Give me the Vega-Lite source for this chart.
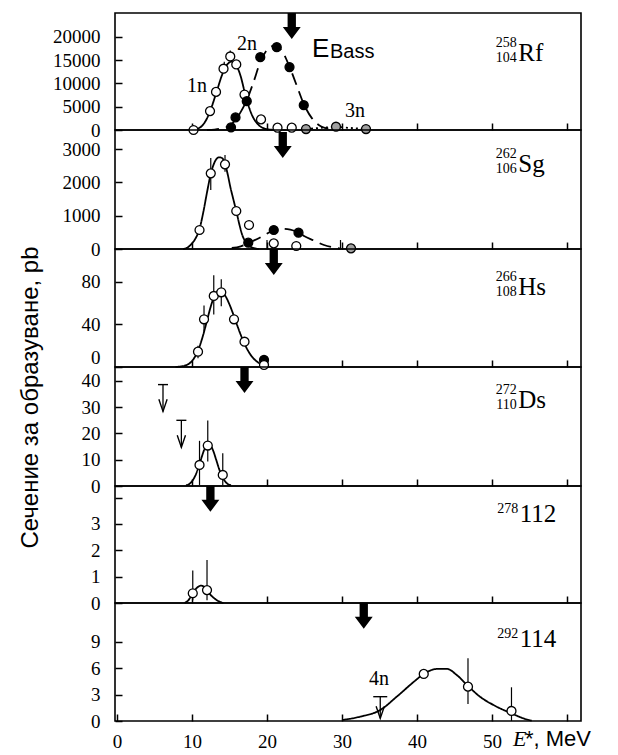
{
  "$schema": "https://vega.github.io/schema/vega-lite/v6.json",
  "background": "white",
  "padding": {"left": 17, "top": 12, "right": 5, "bottom": 5},
  "spacing": 0,
  "bounds": "flush",
  "config": {
    "font": "Liberation Serif",
    "view": {"stroke": "black", "strokeWidth": 1.6},
    "style": {"guide-label": {"font": "Liberation Serif", "fontSize": 19, "fill": "black"}},
    "axis": {"labelFont": "Liberation Serif", "labelFontSize": 19, "labelColor": "black", "tickColor": "black", "tickWidth": 1.5, "domain": false, "grid": false, "labelOverlap": false, "labelFlush": false, "format": "d"},
    "axisY": {"tickSize": -7, "labelPadding": 22, "labelFont": "Liberation Serif"},
    "axisX": {"tickSize": -7, "labelPadding": 18, "labelFont": "Liberation Serif"}
  },
  "datasets": {
    "curves": [
      {"p":1,"c":"1n","E":10.2,"s":0},{"p":1,"c":"1n","E":10.8,"s":300},{"p":1,"c":"1n","E":11.3,"s":850},{"p":1,"c":"1n","E":11.9,"s":2200},{"p":1,"c":"1n","E":12.4,"s":4000},{"p":1,"c":"1n","E":13.2,"s":7800},{"p":1,"c":"1n","E":14.0,"s":11800},{"p":1,"c":"1n","E":14.7,"s":14100},{"p":1,"c":"1n","E":15.3,"s":14700},{"p":1,"c":"1n","E":16.0,"s":13600},{"p":1,"c":"1n","E":16.5,"s":11500},{"p":1,"c":"1n","E":17.0,"s":8300},{"p":1,"c":"1n","E":17.5,"s":5400},{"p":1,"c":"1n","E":18.0,"s":3200},{"p":1,"c":"1n","E":18.5,"s":1800},{"p":1,"c":"1n","E":19.0,"s":900},{"p":1,"c":"1n","E":19.6,"s":350},{"p":1,"c":"1n","E":20.2,"s":120},{"p":1,"c":"1n","E":21.0,"s":20},{"p":1,"c":"1n","E":21.9,"s":0},
      {"p":1,"c":"2n","E":12.0,"s":0},{"p":1,"c":"2n","E":13.0,"s":100},{"p":1,"c":"2n","E":14.0,"s":350},{"p":1,"c":"2n","E":15.0,"s":900},{"p":1,"c":"2n","E":15.8,"s":2200},{"p":1,"c":"2n","E":16.5,"s":3900},{"p":1,"c":"2n","E":17.3,"s":6400},{"p":1,"c":"2n","E":18.2,"s":10300},{"p":1,"c":"2n","E":19.1,"s":14600},{"p":1,"c":"2n","E":20.0,"s":17200},{"p":1,"c":"2n","E":21.1,"s":18200},{"p":1,"c":"2n","E":22.0,"s":17000},{"p":1,"c":"2n","E":23.0,"s":13600},{"p":1,"c":"2n","E":24.0,"s":9400},{"p":1,"c":"2n","E":24.9,"s":5600},{"p":1,"c":"2n","E":26.0,"s":2500},{"p":1,"c":"2n","E":27.3,"s":700},{"p":1,"c":"2n","E":28.7,"s":150},{"p":1,"c":"2n","E":29.5,"s":0},
      {"p":1,"c":"3n","E":25.2,"s":200},{"p":1,"c":"3n","E":27.0,"s":450},{"p":1,"c":"3n","E":29.2,"s":650},{"p":1,"c":"3n","E":31.0,"s":450},{"p":1,"c":"3n","E":33.2,"s":200},
      {"p":2,"c":"1n","E":8.8,"s":0},{"p":2,"c":"1n","E":9.5,"s":60},{"p":2,"c":"1n","E":10.0,"s":170},{"p":2,"c":"1n","E":10.5,"s":330},{"p":2,"c":"1n","E":11.0,"s":600},{"p":2,"c":"1n","E":11.5,"s":1100},{"p":2,"c":"1n","E":12.0,"s":1700},{"p":2,"c":"1n","E":12.5,"s":2250},{"p":2,"c":"1n","E":13.0,"s":2600},{"p":2,"c":"1n","E":13.6,"s":2750},{"p":2,"c":"1n","E":14.0,"s":2730},{"p":2,"c":"1n","E":14.4,"s":2550},{"p":2,"c":"1n","E":14.8,"s":2200},{"p":2,"c":"1n","E":15.1,"s":1870},{"p":2,"c":"1n","E":15.5,"s":1500},{"p":2,"c":"1n","E":15.9,"s":1140},{"p":2,"c":"1n","E":16.3,"s":750},{"p":2,"c":"1n","E":16.7,"s":420},{"p":2,"c":"1n","E":17.1,"s":230},{"p":2,"c":"1n","E":17.6,"s":100},{"p":2,"c":"1n","E":18.2,"s":30},{"p":2,"c":"1n","E":18.9,"s":0},
      {"p":2,"c":"2n","E":15.3,"s":30},{"p":2,"c":"2n","E":16.5,"s":80},{"p":2,"c":"2n","E":17.5,"s":180},{"p":2,"c":"2n","E":18.7,"s":300},{"p":2,"c":"2n","E":19.9,"s":450},{"p":2,"c":"2n","E":20.9,"s":560},{"p":2,"c":"2n","E":22.0,"s":610},{"p":2,"c":"2n","E":23.1,"s":580},{"p":2,"c":"2n","E":24.2,"s":490},{"p":2,"c":"2n","E":25.0,"s":380},{"p":2,"c":"2n","E":26.2,"s":260},{"p":2,"c":"2n","E":27.6,"s":120},{"p":2,"c":"2n","E":28.8,"s":50},{"p":2,"c":"2n","E":29.8,"s":10},
      {"p":3,"c":"1n","E":7.8,"s":0.1},{"p":3,"c":"1n","E":8.5,"s":0.5},{"p":3,"c":"1n","E":9.0,"s":1.2},{"p":3,"c":"1n","E":9.5,"s":2.7},{"p":3,"c":"1n","E":10.0,"s":5.7},{"p":3,"c":"1n","E":10.5,"s":11},{"p":3,"c":"1n","E":11.0,"s":19.2},{"p":3,"c":"1n","E":11.5,"s":30.4},{"p":3,"c":"1n","E":12.0,"s":43.7},{"p":3,"c":"1n","E":12.5,"s":56.9},{"p":3,"c":"1n","E":13.0,"s":67.1},{"p":3,"c":"1n","E":13.6,"s":72},{"p":3,"c":"1n","E":14.0,"s":70.8},{"p":3,"c":"1n","E":14.5,"s":66.2},{"p":3,"c":"1n","E":15.0,"s":58.8},{"p":3,"c":"1n","E":15.5,"s":49.6},{"p":3,"c":"1n","E":16.0,"s":39.7},{"p":3,"c":"1n","E":16.5,"s":30.2},{"p":3,"c":"1n","E":17.0,"s":21.8},{"p":3,"c":"1n","E":17.5,"s":15},{"p":3,"c":"1n","E":18.0,"s":9.7},{"p":3,"c":"1n","E":18.5,"s":6.0},{"p":3,"c":"1n","E":19.0,"s":3.5},{"p":3,"c":"1n","E":19.6,"s":1.5},
      {"p":4,"c":"1n","E":9.2,"s":0.3},{"p":4,"c":"1n","E":9.6,"s":0.7},{"p":4,"c":"1n","E":10.0,"s":1.8},{"p":4,"c":"1n","E":10.4,"s":3.7},{"p":4,"c":"1n","E":10.8,"s":6.6},{"p":4,"c":"1n","E":11.2,"s":10.2},{"p":4,"c":"1n","E":11.6,"s":13.6},{"p":4,"c":"1n","E":12.0,"s":15.7},{"p":4,"c":"1n","E":12.2,"s":16},{"p":4,"c":"1n","E":12.4,"s":15.7},{"p":4,"c":"1n","E":12.8,"s":13.6},{"p":4,"c":"1n","E":13.2,"s":10.2},{"p":4,"c":"1n","E":13.6,"s":6.6},{"p":4,"c":"1n","E":14.0,"s":3.7},{"p":4,"c":"1n","E":14.4,"s":1.8},{"p":4,"c":"1n","E":14.8,"s":0.7},{"p":4,"c":"1n","E":15.2,"s":0.3},
      {"p":5,"c":"1n","E":9.0,"s":0},{"p":5,"c":"1n","E":9.5,"s":0.1},{"p":5,"c":"1n","E":10.1,"s":0.37},{"p":5,"c":"1n","E":10.6,"s":0.56},{"p":5,"c":"1n","E":11.2,"s":0.66},{"p":5,"c":"1n","E":11.7,"s":0.6},{"p":5,"c":"1n","E":12.0,"s":0.49},{"p":5,"c":"1n","E":12.5,"s":0.3},{"p":5,"c":"1n","E":13.1,"s":0.15},{"p":5,"c":"1n","E":13.6,"s":0.06},{"p":5,"c":"1n","E":14.2,"s":0},
      {"p":6,"c":"4n","E":30.0,"s":0.11},{"p":6,"c":"4n","E":32.4,"s":0.49},{"p":6,"c":"4n","E":35.1,"s":1.25},{"p":6,"c":"4n","E":37.3,"s":2.77},{"p":6,"c":"4n","E":39.6,"s":4.48},{"p":6,"c":"4n","E":40.9,"s":5.36},{"p":6,"c":"4n","E":42.7,"s":5.93},{"p":6,"c":"4n","E":44.0,"s":5.93},{"p":6,"c":"4n","E":45.3,"s":5.24},{"p":6,"c":"4n","E":46.8,"s":3.99},{"p":6,"c":"4n","E":48.4,"s":2.77},{"p":6,"c":"4n","E":50.2,"s":1.82},{"p":6,"c":"4n","E":52.6,"s":0.87},{"p":6,"c":"4n","E":54.2,"s":0.3},{"p":6,"c":"4n","E":55.3,"s":0.03}
    ],
    "pts": [
      {"p":1,"E":10.2,"s":0,"k":"o"},{"p":1,"E":12.4,"s":4060,"k":"o"},{"p":1,"E":13.2,"s":8190,"k":"o"},{"p":1,"E":14.2,"s":13180,"k":"o"},{"p":1,"E":15.1,"s":15810,"k":"o"},{"p":1,"E":15.9,"s":14100,"k":"o"},{"p":1,"E":17.0,"s":7620,"k":"o"},{"p":1,"E":19.2,"s":2280,"k":"o"},{"p":1,"E":21.4,"s":500,"k":"o"},{"p":1,"E":23.3,"s":500,"k":"o"},
      {"p":1,"E":15.2,"s":570,"k":"f"},{"p":1,"E":15.8,"s":2710,"k":"f"},{"p":1,"E":17.3,"s":6200,"k":"f"},{"p":1,"E":19.1,"s":15670,"k":"f"},{"p":1,"E":21.3,"s":17800,"k":"f"},{"p":1,"E":23.0,"s":13530,"k":"f"},{"p":1,"E":24.9,"s":5340,"k":"f"},
      {"p":1,"E":25.2,"s":210,"k":"g"},{"p":1,"E":29.2,"s":710,"k":"g"},{"p":1,"E":33.2,"s":210,"k":"g"},
      {"p":2,"E":11.0,"s":570,"k":"o"},{"p":2,"E":12.5,"s":2270,"k":"o"},{"p":2,"E":14.4,"s":2540,"k":"o"},{"p":2,"E":15.9,"s":1140,"k":"o"},{"p":2,"E":17.6,"s":720,"k":"o"},{"p":2,"E":20.9,"s":170,"k":"o"},{"p":2,"E":23.9,"s":90,"k":"o"},
      {"p":2,"E":17.5,"s":190,"k":"f"},{"p":2,"E":20.9,"s":570,"k":"f"},{"p":2,"E":24.2,"s":490,"k":"f"},
      {"p":2,"E":31.2,"s":20,"k":"g"},
      {"p":3,"E":19.6,"s":6.6,"k":"f"},
      {"p":3,"E":10.8,"s":14.4,"k":"o"},{"p":3,"E":11.6,"s":44.9,"k":"o"},{"p":3,"E":12.9,"s":66.8,"k":"o"},{"p":3,"E":13.9,"s":70.3,"k":"o"},{"p":3,"E":15.6,"s":44.9,"k":"o"},{"p":3,"E":17.0,"s":23.8,"k":"o"},{"p":3,"E":19.6,"s":1.9,"k":"o"},
      {"p":4,"E":11.0,"s":8.0,"k":"o"},{"p":4,"E":12.1,"s":15.4,"k":"o"},{"p":4,"E":14.1,"s":4.2,"k":"o"},
      {"p":5,"E":10.1,"s":0.37,"k":"o"},{"p":5,"E":12.0,"s":0.49,"k":"o"},
      {"p":6,"E":40.9,"s":5.36,"k":"o"},{"p":6,"E":46.8,"s":3.91,"k":"o"},{"p":6,"E":52.6,"s":1.14,"k":"o"}
    ],
    "err": [
      {"p":1,"E":14.3,"s":12200,"s2":14700},{"p":1,"E":15.1,"s":15000,"s2":17100},
      {"p":2,"E":12.5,"s":1770,"s2":2730},{"p":2,"E":14.4,"s":2320,"s2":2820},{"p":2,"E":20.0,"s":0,"s2":270},{"p":2,"E":29.8,"s":20,"s2":270},
      {"p":3,"E":10.8,"s":8.3,"s2":19.9},{"p":3,"E":11.6,"s":33.5,"s2":57.9},{"p":3,"E":12.9,"s":49.3,"s2":86.4},{"p":3,"E":13.9,"s":57.2,"s2":82.6},
      {"p":4,"E":11.0,"s":0.4,"s2":17.2},{"p":4,"E":12.1,"s":9.3,"s2":24.9},{"p":4,"E":14.1,"s":0.4,"s2":12.5},
      {"p":5,"E":10.1,"s":0.1,"s2":1.23},{"p":5,"E":12.0,"s":0.1,"s2":1.63},
      {"p":6,"E":46.8,"s":1.94,"s2":7.15},{"p":6,"E":52.6,"s":0,"s2":3.84}
    ],
    "lims": [
      {"p":4,"E":6.13,"s":38.6,"s2":28.4},{"p":4,"E":8.58,"s":25.0,"s2":14.7},
      {"p":6,"E":35.1,"s":2.77,"s2":0.3}
    ],
    "limv": [
      {"p":4,"E":6.13,"s":28.4},{"p":4,"E":8.58,"s":14.7},
      {"p":6,"E":35.1,"s":0.3}
    ],
    "arrows": [
      {"p":1,"E":23.3,"s":19570},{"p":2,"E":22.1,"s":2730},{"p":3,"E":20.9,"s":86.6},{"p":4,"E":17.0,"s":35.4},{"p":5,"E":12.45,"s":3.46},{"p":6,"E":32.9,"s":10.5}
    ],
    "labels": [
      {"p":1,"r":"sym","t":"Rf","E":53.5,"s":14840},{"p":1,"r":"mass","t":"258","E":53.3,"s":14840},{"p":1,"r":"z","t":"104","E":53.3,"s":14840},
      {"p":1,"r":"cl","t":"1n","E":9.33,"s":8170},{"p":1,"r":"cl","t":"2n","E":16.0,"s":17200},{"p":1,"r":"cl","t":"3n","E":30.4,"s":2800},
      {"p":1,"r":"EB","t":"E","E":26.0,"s":15700},{"p":1,"r":"Bass","t":"Bass","E":28.4,"s":15500},
      {"p":2,"r":"sym","t":"Sg","E":53.5,"s":2310},{"p":2,"r":"mass","t":"262","E":53.3,"s":2310},{"p":2,"r":"z","t":"106","E":53.3,"s":2310},
      {"p":3,"r":"sym","t":"Hs","E":53.5,"s":67.8},{"p":3,"r":"mass","t":"266","E":53.3,"s":67.8},{"p":3,"r":"z","t":"108","E":53.3,"s":67.8},
      {"p":4,"r":"sym","t":"Ds","E":53.5,"s":29.7},{"p":4,"r":"mass","t":"272","E":53.3,"s":29.7},{"p":4,"r":"z","t":"110","E":53.3,"s":29.7},
      {"p":5,"r":"sym","t":"112","E":53.7,"s":3.08},{"p":5,"r":"mass2","t":"278","E":53.5,"s":3.08},
      {"p":6,"r":"sym","t":"114","E":53.7,"s":8.43},{"p":6,"r":"mass2","t":"292","E":53.5,"s":8.43},
      {"p":6,"r":"cl","t":"4n","E":33.6,"s":4.1},
      {"p":6,"r":"xt1","t":"E","E":52.8,"s":-2.85},{"p":6,"r":"xt2","t":"*, MeV","E":54.4,"s":-2.85}
    ]
  },
  "resolve": {"scale": {"x": "independent", "y": "independent"}},
  "vconcat": [
    {
      "width": 466, "height": 117,
      "encoding": {
        "x": {"field": "E", "type": "quantitative", "scale": {"domain": [-0.27, 61.87], "nice": false, "zero": false}, "axis": {"title": null, "labels": false, "values": [10,20,30,40,50,60]}},
        "y": {"field": "s", "type": "quantitative", "scale": {"domain": [0, 25160], "nice": false, "zero": false}, "axis": {"title": null, "values": [0,5000,10000,15000,20000], "format": "d"}}
      },
      "layer": [
        {"data": {"name": "curves"}, "transform": [{"filter": "datum.p == 1"}], "mark": {"type": "line", "interpolate": "monotone", "color": "black", "strokeWidth": 1.8}, "encoding": {"strokeDash": {"field": "c", "type": "nominal", "scale": {"domain": ["1n","2n","3n","4n"], "range": [[1,0],[12,7],[2,3],[1,0]]}, "legend": null}}},
        {"data": {"name": "err"}, "transform": [{"filter": "datum.p == 1"}], "mark": {"type": "rule", "color": "black", "strokeWidth": 1.2}, "encoding": {"y2": {"field": "s2"}}},
        {"data": {"name": "pts"}, "transform": [{"filter": "datum.p == 1"}], "mark": {"type": "circle", "size": 80, "stroke": "black", "strokeWidth": 1.3, "opacity": 1}, "encoding": {"fill": {"field": "k", "type": "nominal", "scale": {"domain": ["o","f","g"], "range": ["white","black","#a0a0a0"]}, "legend": null}}},
        {"data": {"name": "arrows"}, "transform": [{"filter": "datum.p == 1"}], "mark": {"type": "point", "shape": "M-0.32,-2L0.32,-2L0.32,-0.92L0.69,-0.92L0,0L-0.69,-0.92L-0.32,-0.92Z", "size": 676, "filled": true, "color": "black", "opacity": 1, "strokeWidth": 0}},
        {"data": {"name": "labels"}, "transform": [{"filter": "datum.p == 1 && datum.r == 'sym'"}], "mark": {"type": "text", "align": "left", "baseline": "alphabetic", "fontSize": 25, "font": "Liberation Serif", "color": "black"}, "encoding": {"text": {"field": "t"}}},
        {"data": {"name": "labels"}, "transform": [{"filter": "datum.p == 1 && datum.r == 'mass'"}], "mark": {"type": "text", "align": "right", "baseline": "alphabetic", "dy": -14, "fontSize": 14, "font": "Liberation Serif", "color": "black"}, "encoding": {"text": {"field": "t"}}},
        {"data": {"name": "labels"}, "transform": [{"filter": "datum.p == 1 && datum.r == 'z'"}], "mark": {"type": "text", "align": "right", "baseline": "alphabetic", "dy": 1, "fontSize": 14, "font": "Liberation Serif", "color": "black"}, "encoding": {"text": {"field": "t"}}},
        {"data": {"name": "labels"}, "transform": [{"filter": "datum.p == 1 && datum.r == 'cl'"}], "mark": {"type": "text", "align": "left", "baseline": "alphabetic", "fontSize": 20, "font": "Liberation Serif", "color": "black"}, "encoding": {"text": {"field": "t"}}},
        {"data": {"name": "labels"}, "transform": [{"filter": "datum.p == 1 && datum.r == 'EB'"}], "mark": {"type": "text", "align": "left", "baseline": "alphabetic", "fontSize": 26, "font": "Liberation Sans", "color": "black"}, "encoding": {"text": {"field": "t"}}},
        {"data": {"name": "labels"}, "transform": [{"filter": "datum.p == 1 && datum.r == 'Bass'"}], "mark": {"type": "text", "align": "left", "baseline": "alphabetic", "fontSize": 20, "font": "Liberation Sans", "color": "black"}, "encoding": {"text": {"field": "t"}}}
      ]
    },
    {
      "width": 466, "height": 119,
      "encoding": {
        "x": {"field": "E", "type": "quantitative", "scale": {"domain": [-0.27, 61.87], "nice": false, "zero": false}, "axis": {"title": null, "labels": false, "values": [10,20,30,40,50,60]}},
        "y": {"field": "s", "type": "quantitative", "scale": {"domain": [0, 3570], "nice": false, "zero": false}, "axis": {"title": null, "values": [0,1000,2000,3000], "format": "d"}}
      },
      "layer": [
        {"data": {"name": "curves"}, "transform": [{"filter": "datum.p == 2"}], "mark": {"type": "line", "interpolate": "monotone", "color": "black", "strokeWidth": 1.8}, "encoding": {"strokeDash": {"field": "c", "type": "nominal", "scale": {"domain": ["1n","2n","3n","4n"], "range": [[1,0],[12,7],[2,3],[1,0]]}, "legend": null}}},
        {"data": {"name": "err"}, "transform": [{"filter": "datum.p == 2"}], "mark": {"type": "rule", "color": "black", "strokeWidth": 1.2}, "encoding": {"y2": {"field": "s2"}}},
        {"data": {"name": "pts"}, "transform": [{"filter": "datum.p == 2"}], "mark": {"type": "circle", "size": 80, "stroke": "black", "strokeWidth": 1.3, "opacity": 1}, "encoding": {"fill": {"field": "k", "type": "nominal", "scale": {"domain": ["o","f","g"], "range": ["white","black","#a0a0a0"]}, "legend": null}}},
        {"data": {"name": "arrows"}, "transform": [{"filter": "datum.p == 2"}], "mark": {"type": "point", "shape": "M-0.32,-2L0.32,-2L0.32,-0.92L0.69,-0.92L0,0L-0.69,-0.92L-0.32,-0.92Z", "size": 676, "filled": true, "color": "black", "opacity": 1, "strokeWidth": 0}},
        {"data": {"name": "labels"}, "transform": [{"filter": "datum.p == 2 && datum.r == 'sym'"}], "mark": {"type": "text", "align": "left", "baseline": "alphabetic", "fontSize": 25, "font": "Liberation Serif", "color": "black"}, "encoding": {"text": {"field": "t"}}},
        {"data": {"name": "labels"}, "transform": [{"filter": "datum.p == 2 && datum.r == 'mass'"}], "mark": {"type": "text", "align": "right", "baseline": "alphabetic", "dy": -14, "fontSize": 14, "font": "Liberation Serif", "color": "black"}, "encoding": {"text": {"field": "t"}}},
        {"data": {"name": "labels"}, "transform": [{"filter": "datum.p == 2 && datum.r == 'z'"}], "mark": {"type": "text", "align": "right", "baseline": "alphabetic", "dy": 1, "fontSize": 14, "font": "Liberation Serif", "color": "black"}, "encoding": {"text": {"field": "t"}}}
      ]
    },
    {
      "width": 466, "height": 118,
      "encoding": {
        "x": {"field": "E", "type": "quantitative", "scale": {"domain": [-0.27, 61.87], "nice": false, "zero": false}, "axis": {"title": null, "labels": false, "values": [10,20,30,40,50,60]}},
        "y": {"field": "s", "type": "quantitative", "scale": {"domain": [0, 111], "nice": false, "zero": false}, "axis": {"title": null, "values": [0,40,80], "labelFlush": true}}
      },
      "layer": [
        {"data": {"name": "curves"}, "transform": [{"filter": "datum.p == 3"}], "mark": {"type": "line", "interpolate": "monotone", "color": "black", "strokeWidth": 1.8}, "encoding": {"strokeDash": {"field": "c", "type": "nominal", "scale": {"domain": ["1n","2n","3n","4n"], "range": [[1,0],[12,7],[2,3],[1,0]]}, "legend": null}}},
        {"data": {"name": "err"}, "transform": [{"filter": "datum.p == 3"}], "mark": {"type": "rule", "color": "black", "strokeWidth": 1.2}, "encoding": {"y2": {"field": "s2"}}},
        {"data": {"name": "pts"}, "transform": [{"filter": "datum.p == 3"}], "mark": {"type": "circle", "size": 80, "stroke": "black", "strokeWidth": 1.3, "opacity": 1}, "encoding": {"fill": {"field": "k", "type": "nominal", "scale": {"domain": ["o","f","g"], "range": ["white","black","#a0a0a0"]}, "legend": null}}},
        {"data": {"name": "arrows"}, "transform": [{"filter": "datum.p == 3"}], "mark": {"type": "point", "shape": "M-0.32,-2L0.32,-2L0.32,-0.92L0.69,-0.92L0,0L-0.69,-0.92L-0.32,-0.92Z", "size": 676, "filled": true, "color": "black", "opacity": 1, "strokeWidth": 0}},
        {"data": {"name": "labels"}, "transform": [{"filter": "datum.p == 3 && datum.r == 'sym'"}], "mark": {"type": "text", "align": "left", "baseline": "alphabetic", "fontSize": 25, "font": "Liberation Serif", "color": "black"}, "encoding": {"text": {"field": "t"}}},
        {"data": {"name": "labels"}, "transform": [{"filter": "datum.p == 3 && datum.r == 'mass'"}], "mark": {"type": "text", "align": "right", "baseline": "alphabetic", "dy": -14, "fontSize": 14, "font": "Liberation Serif", "color": "black"}, "encoding": {"text": {"field": "t"}}},
        {"data": {"name": "labels"}, "transform": [{"filter": "datum.p == 3 && datum.r == 'z'"}], "mark": {"type": "text", "align": "right", "baseline": "alphabetic", "dy": 1, "fontSize": 14, "font": "Liberation Serif", "color": "black"}, "encoding": {"text": {"field": "t"}}}
      ]
    },
    {
      "width": 466, "height": 119,
      "encoding": {
        "x": {"field": "E", "type": "quantitative", "scale": {"domain": [-0.27, 61.87], "nice": false, "zero": false}, "axis": {"title": null, "labels": false, "values": [10,20,30,40,50,60]}},
        "y": {"field": "s", "type": "quantitative", "scale": {"domain": [0, 45.3], "nice": false, "zero": false}, "axis": {"title": "Сечение за образуване, pb", "titleFont": "Liberation Sans", "titleFontSize": 24, "titleFontWeight": "normal", "titleColor": "black", "titleAngle": 270, "titleAlign": "center", "titleBaseline": "middle", "titleX": -85, "titleY": 30, "values": [0,10,20,30,40]}}
      },
      "layer": [
        {"data": {"name": "curves"}, "transform": [{"filter": "datum.p == 4"}], "mark": {"type": "line", "interpolate": "monotone", "color": "black", "strokeWidth": 1.8}, "encoding": {"strokeDash": {"field": "c", "type": "nominal", "scale": {"domain": ["1n","2n","3n","4n"], "range": [[1,0],[12,7],[2,3],[1,0]]}, "legend": null}}},
        {"data": {"name": "err"}, "transform": [{"filter": "datum.p == 4"}], "mark": {"type": "rule", "color": "black", "strokeWidth": 1.2}, "encoding": {"y2": {"field": "s2"}}},
        {"data": {"name": "lims"}, "transform": [{"filter": "datum.p == 4"}], "mark": {"type": "rule", "color": "black", "strokeWidth": 1.3}, "encoding": {"y2": {"field": "s2"}}},
        {"data": {"name": "lims"}, "transform": [{"filter": "datum.p == 4"}], "mark": {"type": "tick", "orient": "horizontal", "size": 10, "thickness": 1.4, "color": "black", "opacity": 1}},
        {"data": {"name": "limv"}, "transform": [{"filter": "datum.p == 4"}], "mark": {"type": "point", "shape": "M-0.6,-1.75L0,0L0.6,-1.75", "size": 190, "filled": false, "color": "black", "opacity": 1, "strokeWidth": 1.4}},
        {"data": {"name": "pts"}, "transform": [{"filter": "datum.p == 4"}], "mark": {"type": "circle", "size": 80, "stroke": "black", "strokeWidth": 1.3, "opacity": 1}, "encoding": {"fill": {"field": "k", "type": "nominal", "scale": {"domain": ["o","f","g"], "range": ["white","black","#a0a0a0"]}, "legend": null}}},
        {"data": {"name": "arrows"}, "transform": [{"filter": "datum.p == 4"}], "mark": {"type": "point", "shape": "M-0.32,-2L0.32,-2L0.32,-0.92L0.69,-0.92L0,0L-0.69,-0.92L-0.32,-0.92Z", "size": 676, "filled": true, "color": "black", "opacity": 1, "strokeWidth": 0}},
        {"data": {"name": "labels"}, "transform": [{"filter": "datum.p == 4 && datum.r == 'sym'"}], "mark": {"type": "text", "align": "left", "baseline": "alphabetic", "fontSize": 25, "font": "Liberation Serif", "color": "black"}, "encoding": {"text": {"field": "t"}}},
        {"data": {"name": "labels"}, "transform": [{"filter": "datum.p == 4 && datum.r == 'mass'"}], "mark": {"type": "text", "align": "right", "baseline": "alphabetic", "dy": -14, "fontSize": 14, "font": "Liberation Serif", "color": "black"}, "encoding": {"text": {"field": "t"}}},
        {"data": {"name": "labels"}, "transform": [{"filter": "datum.p == 4 && datum.r == 'z'"}], "mark": {"type": "text", "align": "right", "baseline": "alphabetic", "dy": 1, "fontSize": 14, "font": "Liberation Serif", "color": "black"}, "encoding": {"text": {"field": "t"}}}
      ]
    },
    {
      "width": 466, "height": 117,
      "encoding": {
        "x": {"field": "E", "type": "quantitative", "scale": {"domain": [-0.27, 61.87], "nice": false, "zero": false}, "axis": {"title": null, "labels": false, "values": [10,20,30,40,50,60]}},
        "y": {"field": "s", "type": "quantitative", "scale": {"domain": [0, 4.44], "nice": false, "zero": false}, "axis": {"title": null, "values": [0,1,2,3,4], "labelExpr": "datum.value == 4 ? '' : datum.label"}}
      },
      "layer": [
        {"data": {"name": "curves"}, "transform": [{"filter": "datum.p == 5"}], "mark": {"type": "line", "interpolate": "monotone", "color": "black", "strokeWidth": 1.8}, "encoding": {"strokeDash": {"field": "c", "type": "nominal", "scale": {"domain": ["1n","2n","3n","4n"], "range": [[1,0],[12,7],[2,3],[1,0]]}, "legend": null}}},
        {"data": {"name": "err"}, "transform": [{"filter": "datum.p == 5"}], "mark": {"type": "rule", "color": "black", "strokeWidth": 1.2}, "encoding": {"y2": {"field": "s2"}}},
        {"data": {"name": "pts"}, "transform": [{"filter": "datum.p == 5"}], "mark": {"type": "circle", "size": 80, "stroke": "black", "strokeWidth": 1.3, "opacity": 1}, "encoding": {"fill": {"field": "k", "type": "nominal", "scale": {"domain": ["o","f","g"], "range": ["white","black","#a0a0a0"]}, "legend": null}}},
        {"data": {"name": "arrows"}, "transform": [{"filter": "datum.p == 5"}], "mark": {"type": "point", "shape": "M-0.32,-2L0.32,-2L0.32,-0.92L0.69,-0.92L0,0L-0.69,-0.92L-0.32,-0.92Z", "size": 676, "filled": true, "color": "black", "opacity": 1, "strokeWidth": 0}},
        {"data": {"name": "labels"}, "transform": [{"filter": "datum.p == 5 && datum.r == 'sym'"}], "mark": {"type": "text", "align": "left", "baseline": "alphabetic", "fontSize": 25, "font": "Liberation Serif", "color": "black"}, "encoding": {"text": {"field": "t"}}},
        {"data": {"name": "labels"}, "transform": [{"filter": "datum.p == 5 && datum.r == 'mass2'"}], "mark": {"type": "text", "align": "right", "baseline": "alphabetic", "dy": -9, "fontSize": 14, "font": "Liberation Serif", "color": "black"}, "encoding": {"text": {"field": "t"}}}
      ]
    },
    {
      "width": 466, "height": 118,
      "encoding": {
        "x": {"field": "E", "type": "quantitative", "scale": {"domain": [-0.27, 61.87], "nice": false, "zero": false}, "axis": {"title": null, "values": [0,10,20,30,40,50,60], "labelExpr": "datum.value == 60 ? '' : datum.label"}},
        "y": {"field": "s", "type": "quantitative", "scale": {"domain": [0, 13.44], "nice": false, "zero": false}, "axis": {"title": null, "values": [0,3,6,9]}}
      },
      "layer": [
        {"data": {"name": "curves"}, "transform": [{"filter": "datum.p == 6"}], "mark": {"type": "line", "interpolate": "monotone", "color": "black", "strokeWidth": 1.8}, "encoding": {"strokeDash": {"field": "c", "type": "nominal", "scale": {"domain": ["1n","2n","3n","4n"], "range": [[1,0],[12,7],[2,3],[1,0]]}, "legend": null}}},
        {"data": {"name": "err"}, "transform": [{"filter": "datum.p == 6"}], "mark": {"type": "rule", "color": "black", "strokeWidth": 1.2}, "encoding": {"y2": {"field": "s2"}}},
        {"data": {"name": "lims"}, "transform": [{"filter": "datum.p == 6"}], "mark": {"type": "rule", "color": "black", "strokeWidth": 1.3}, "encoding": {"y2": {"field": "s2"}}},
        {"data": {"name": "lims"}, "transform": [{"filter": "datum.p == 6"}], "mark": {"type": "tick", "orient": "horizontal", "size": 14, "thickness": 1.4, "color": "black", "opacity": 1}},
        {"data": {"name": "limv"}, "transform": [{"filter": "datum.p == 6"}], "mark": {"type": "point", "shape": "M-0.6,-1.75L0,0L0.6,-1.75", "size": 190, "filled": false, "color": "black", "opacity": 1, "strokeWidth": 1.4}},
        {"data": {"name": "pts"}, "transform": [{"filter": "datum.p == 6"}], "mark": {"type": "circle", "size": 80, "stroke": "black", "strokeWidth": 1.3, "opacity": 1}, "encoding": {"fill": {"field": "k", "type": "nominal", "scale": {"domain": ["o","f","g"], "range": ["white","black","#a0a0a0"]}, "legend": null}}},
        {"data": {"name": "arrows"}, "transform": [{"filter": "datum.p == 6"}], "mark": {"type": "point", "shape": "M-0.32,-2L0.32,-2L0.32,-0.92L0.69,-0.92L0,0L-0.69,-0.92L-0.32,-0.92Z", "size": 676, "filled": true, "color": "black", "opacity": 1, "strokeWidth": 0}},
        {"data": {"name": "labels"}, "transform": [{"filter": "datum.p == 6 && datum.r == 'sym'"}], "mark": {"type": "text", "align": "left", "baseline": "alphabetic", "fontSize": 25, "font": "Liberation Serif", "color": "black"}, "encoding": {"text": {"field": "t"}}},
        {"data": {"name": "labels"}, "transform": [{"filter": "datum.p == 6 && datum.r == 'mass2'"}], "mark": {"type": "text", "align": "right", "baseline": "alphabetic", "dy": -9, "fontSize": 14, "font": "Liberation Serif", "color": "black"}, "encoding": {"text": {"field": "t"}}},
        {"data": {"name": "labels"}, "transform": [{"filter": "datum.p == 6 && datum.r == 'cl'"}], "mark": {"type": "text", "align": "left", "baseline": "alphabetic", "fontSize": 20, "font": "Liberation Serif", "color": "black"}, "encoding": {"text": {"field": "t"}}},
        {"data": {"name": "labels"}, "transform": [{"filter": "datum.p == 6 && datum.r == 'xt1'"}], "mark": {"type": "text", "align": "left", "baseline": "alphabetic", "fontSize": 22, "fontStyle": "italic", "font": "Liberation Serif", "color": "black"}, "encoding": {"text": {"field": "t"}}},
        {"data": {"name": "labels"}, "transform": [{"filter": "datum.p == 6 && datum.r == 'xt2'"}], "mark": {"type": "text", "align": "left", "baseline": "alphabetic", "fontSize": 22, "font": "Liberation Sans", "color": "black"}, "encoding": {"text": {"field": "t"}}}
      ]
    }
  ]
}
